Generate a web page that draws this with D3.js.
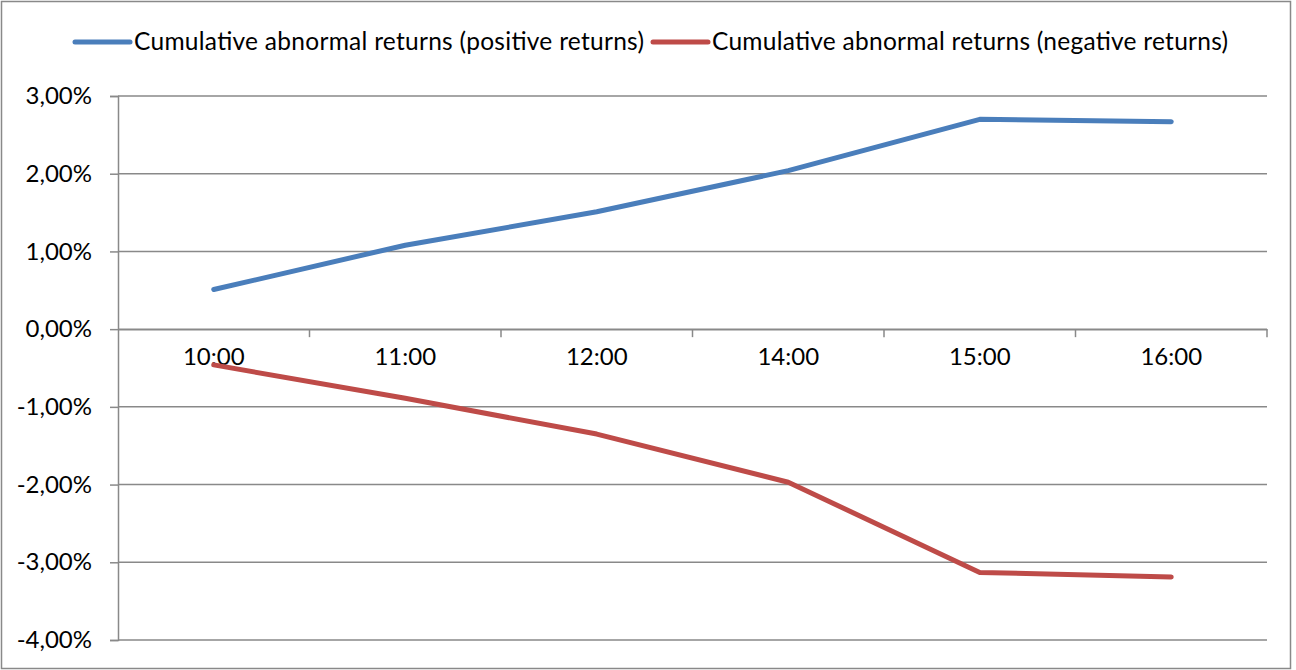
<html>
  <head>
    <script src="https://d3js.org/d3.v7.min.js"></script>
    <style>
      body { margin: 0; background: #fff; }
      text { font-family: Lato, "Open Sans", sans-serif; fill: #000; }
    </style>
  </head>
  <body>
    <svg id="chart"></svg>
    <script>
      // data
      const hours = ["10:00", "11:00", "12:00", "14:00", "15:00", "16:00"];
      const positiveCar = [0.0051, 0.0108, 0.0151, 0.0204, 0.0270, 0.0267];
      const negativeCar = [-0.0046, -0.0089, -0.0135, -0.0197, -0.0313, -0.0319];
      const yTicks = [0.03, 0.02, 0.01, 0, -0.01, -0.02, -0.03, -0.04];
      const seriesNames = ["Cumulative abnormal returns (positive returns)", "Cumulative abnormal returns (negative returns)"];

      const W = 1296, H = 670;
      const plotLeft = 118, plotRight = 1267, plotTop = 96, plotBottom = 640;
      const colors = ["#4A7EBB", "#BE4B48"];
      const grid = "#898989";

      const svg = d3.select("#chart").attr("width", W).attr("height", H);

      // outer frame
      svg.append("rect")
        .attr("x", 1.5).attr("y", 1.5)
        .attr("width", 1289).attr("height", 667)
        .attr("fill", "white").attr("stroke", grid).attr("stroke-width", 1.5);

      var x = d3.scaleBand().domain(hours).range([plotLeft, plotRight]);
      var y = d3.scaleLinear().domain([-0.04, 0.03]).range([plotBottom, plotTop]);
      var fmt = function(v) { return d3.format(".2f")(v * 100).replace(".", ",").replace("−", "-") + "%"; };

      // horizontal gridlines
      svg.append("g")
        .selectAll("line")
        .data(yTicks)
        .enter().append("line")
        .attr("x1", plotLeft).attr("x2", plotRight)
        .attr("y1", function(d) { return y(d); })
        .attr("y2", function(d) { return y(d); })
        .attr("stroke", grid).attr("stroke-width", 1.5);

      // y axis
      var yAxis = svg.append("g")
        .attr("transform", "translate(" + plotLeft + ",0)")
        .call(d3.axisLeft(y).tickValues(yTicks).tickSize(8).tickPadding(18).tickFormat(fmt));
      yAxis.select(".domain").attr("stroke", grid).attr("stroke-width", 1.5);
      yAxis.selectAll(".tick line").attr("stroke", grid).attr("stroke-width", 1.5);
      yAxis.selectAll("text").style("font-size", "24px").attr("font-family", null);

      // x axis on the zero line, ticks between categories
      var xAxis = svg.append("g")
        .attr("transform", "translate(0," + y(0) + ")")
        .call(d3.axisBottom(x).tickSize(0).tickPadding(19));
      xAxis.select(".domain").attr("stroke", grid).attr("stroke-width", 1.5);
      xAxis.selectAll("text").style("font-size", "24px").attr("font-family", null);
      xAxis.selectAll(".sep")
        .data(hours)
        .enter().append("line")
        .attr("class", "sep")
        .attr("x1", function(d, i) { return plotLeft + x.step() * (i + 1); })
        .attr("x2", function(d, i) { return plotLeft + x.step() * (i + 1); })
        .attr("y1", 0).attr("y2", 8)
        .attr("stroke", grid).attr("stroke-width", 1.5);

      // lines
      var line = d3.line()
        .x(function(d, i) { return x(hours[i]) + x.bandwidth() / 2; })
        .y(function(d) { return y(d); });

      [positiveCar, negativeCar].forEach(function(s, k) {
        svg.append("path")
          .datum(s)
          .attr("fill", "none")
          .attr("stroke", colors[k])
          .attr("stroke-width", 5)
          .attr("stroke-linecap", "round")
          .attr("stroke-linejoin", "round")
          .attr("d", line);
      });

      // legend
      var legendX = [75, 653];
      seriesNames.forEach(function(name, k) {
        var g = svg.append("g").attr("transform", "translate(" + legendX[k] + ",42)");
        g.append("line")
          .attr("x1", 0).attr("x2", 55).attr("y1", 0).attr("y2", 0)
          .attr("stroke", colors[k]).attr("stroke-width", 5)
          .attr("stroke-linecap", "round");
        g.append("text")
          .attr("x", 59).attr("y", 8)
          .attr("textLength", k === 0 ? 510 : 516)
          .style("font-size", "24.5px")
          .text(name);
      });
    </script>
  </body>
</html>
